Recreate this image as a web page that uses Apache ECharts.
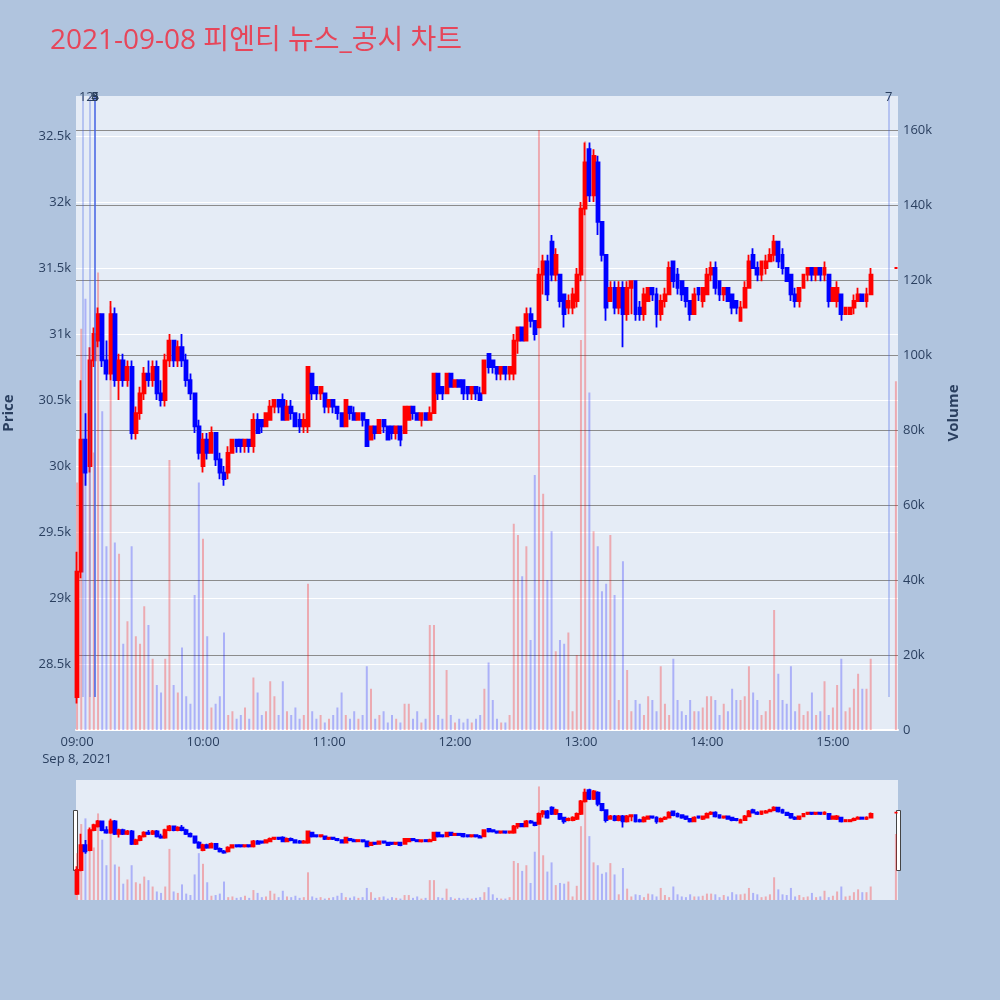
<!DOCTYPE html>
<html>
<head>
<meta charset="utf-8">
<title>피엔티 뉴스_공시 차트</title>
<script src="https://cdn.jsdelivr.net/npm/echarts@6/dist/echarts.min.js"></script>
<style>
  html, body { margin: 0; padding: 0; background: #b0c4de; }
  #chart { width: 1000px; height: 1000px; }
</style>
</head>
<body>
<div id="chart"></div>
<script>
// 2분 단위로 묶은 봉 (09:00 ~ 15:18) + 15:30 종가 단일가
const sessionStart = '09:00'
const closeAuction = '15:30'
const barStep = 2

const opens = [
  28250, 29200, 30200, 30000, 30800, 30950, 31150, 30800, 30700, 31150,
  30650, 30800, 30650, 30750, 30250, 30400, 30550, 30700, 30650, 30750,
  30550, 30500, 30800, 30950, 30800, 30900, 30800, 30650, 30550, 30300,
  30000, 30200, 30100, 30250, 30050, 29950, 29950, 30100, 30200, 30200,
  30150, 30200, 30150, 30350, 30350, 30300, 30350, 30450, 30500, 30500,
  30350, 30450, 30400, 30350, 30300, 30300, 30700, 30600, 30550, 30550,
  30450, 30500, 30450, 30400, 30300, 30450, 30400, 30350, 30400, 30350,
  30200, 30300, 30250, 30350, 30300, 30300, 30250, 30300, 30250, 30350,
  30450, 30400, 30350, 30400, 30350, 30400, 30700, 30600, 30550, 30700,
  30600, 30650, 30650, 30600, 30550, 30600, 30550, 30550, 30850, 30800,
  30750, 30700, 30750, 30700, 30700, 30950, 31050, 30950, 31150, 31100,
  31050, 31450, 31550, 31700, 31450, 31450, 31300, 31200, 31200, 31250,
  31450, 31950, 32400, 32050, 32300, 31850, 31600, 31250, 31350, 31200,
  31350, 31150, 31350, 31400, 31200, 31150, 31250, 31350, 31300, 31150,
  31250, 31300, 31550, 31450, 31400, 31350, 31250, 31150, 31350, 31250,
  31300, 31450, 31500, 31400, 31300, 31350, 31300, 31250, 31100, 31200,
  31350, 31600, 31500, 31450, 31500, 31550, 31600, 31700, 31600, 31500,
  31450, 31300, 31250, 31350, 31450, 31500, 31450, 31500, 31450, 31450,
  31250, 31250, 31300, 31150, 31150, 31200, 31250, 31300, 31250, 31300,
  31500
]
const closes = [
  29200, 30200, 29950, 30800, 31000, 31150, 30800, 30700, 31150, 30650,
  30800, 30650, 30750, 30250, 30400, 30550, 30700, 30650, 30750, 30550,
  30500, 30800, 30950, 30800, 30900, 30800, 30650, 30550, 30300, 30100,
  30200, 30100, 30250, 30050, 29950, 29900, 30100, 30200, 30150, 30150,
  30200, 30150, 30350, 30250, 30300, 30400, 30450, 30500, 30450, 30350,
  30450, 30400, 30300, 30300, 30350, 30750, 30550, 30550, 30600, 30450,
  30500, 30450, 30400, 30300, 30500, 30400, 30350, 30400, 30350, 30150,
  30300, 30250, 30350, 30300, 30200, 30250, 30300, 30200, 30450, 30450,
  30400, 30350, 30400, 30350, 30400, 30700, 30550, 30550, 30700, 30600,
  30650, 30600, 30550, 30550, 30600, 30550, 30500, 30800, 30750, 30750,
  30700, 30750, 30700, 30750, 30950, 31050, 30950, 31150, 31100, 31000,
  31450, 31550, 31300, 31450, 31600, 31250, 31150, 31250, 31300, 31450,
  31950, 32300, 32050, 32350, 31850, 31600, 31200, 31350, 31200, 31350,
  31150, 31350, 31400, 31150, 31150, 31300, 31350, 31300, 31150, 31250,
  31300, 31500, 31400, 31350, 31300, 31250, 31150, 31300, 31300, 31350,
  31450, 31500, 31350, 31300, 31350, 31250, 31200, 31200, 31200, 31350,
  31550, 31500, 31450, 31550, 31550, 31600, 31700, 31550, 31500, 31400,
  31300, 31250, 31350, 31450, 31500, 31450, 31500, 31450, 31500, 31250,
  31350, 31350, 31150, 31200, 31200, 31250, 31300, 31250, 31300, 31450,
  31500
]
const highs = [
  29350, 30650, 30400, 30900, 31050, 31200, 31150, 30950, 31250, 31200,
  30850, 30850, 30800, 30800, 30450, 30600, 30750, 30800, 30800, 30800,
  30650, 30850, 31000, 30950, 30950, 31000, 30850, 30700, 30550, 30350,
  30250, 30250, 30300, 30250, 30100, 30000, 30150, 30200, 30200, 30200,
  30200, 30200, 30400, 30400, 30350, 30400, 30500, 30500, 30500, 30550,
  30500, 30500, 30400, 30400, 30400, 30750, 30700, 30600, 30600, 30550,
  30500, 30500, 30450, 30400, 30500, 30450, 30450, 30400, 30400, 30350,
  30300, 30300, 30350, 30350, 30300, 30300, 30300, 30300, 30450, 30450,
  30450, 30400, 30400, 30400, 30450, 30700, 30700, 30600, 30700, 30700,
  30650, 30650, 30650, 30600, 30600, 30600, 30600, 30800, 30850, 30800,
  30750, 30750, 30750, 30750, 31000, 31050, 31050, 31200, 31200, 31100,
  31500, 31600, 31600, 31750, 31650, 31450, 31300, 31300, 31350, 31500,
  32000, 32450, 32450, 32400, 32350, 31850, 31600, 31400, 31400, 31400,
  31400, 31400, 31400, 31400, 31250, 31350, 31350, 31350, 31350, 31300,
  31350, 31550, 31550, 31500, 31400, 31350, 31250, 31350, 31350, 31350,
  31500, 31550, 31550, 31400, 31350, 31350, 31300, 31250, 31250, 31400,
  31600, 31650, 31550, 31550, 31600, 31650, 31750, 31700, 31650, 31500,
  31450, 31350, 31350, 31450, 31500, 31500, 31500, 31500, 31550, 31450,
  31350, 31400, 31300, 31200, 31200, 31300, 31350, 31300, 31350, 31500,
  31500
]
const lows = [
  28200, 29150, 29850, 29950, 30750, 30900, 30750, 30650, 30650, 30600,
  30500, 30600, 30600, 30200, 30200, 30350, 30500, 30600, 30600, 30500,
  30450, 30450, 30750, 30750, 30750, 30750, 30600, 30500, 30250, 30050,
  29950, 30050, 30100, 30000, 29900, 29850, 29900, 30100, 30100, 30100,
  30100, 30100, 30100, 30250, 30250, 30300, 30350, 30400, 30400, 30350,
  30350, 30350, 30300, 30250, 30250, 30250, 30500, 30500, 30500, 30400,
  30400, 30400, 30350, 30300, 30300, 30350, 30350, 30350, 30300, 30150,
  30200, 30200, 30250, 30250, 30200, 30200, 30200, 30150, 30250, 30350,
  30350, 30350, 30300, 30350, 30350, 30400, 30500, 30500, 30550, 30600,
  30600, 30600, 30500, 30500, 30500, 30500, 30500, 30550, 30700, 30700,
  30650, 30650, 30650, 30650, 30650, 30850, 30950, 30950, 31050, 30950,
  31050, 31300, 31250, 31400, 31400, 31200, 31050, 31150, 31150, 31200,
  31400, 31900, 32000, 32000, 31750, 31550, 31100, 31250, 31150, 31150,
  30900, 31100, 31150, 31100, 31100, 31100, 31250, 31250, 31050, 31100,
  31200, 31300, 31350, 31300, 31250, 31200, 31100, 31150, 31250, 31200,
  31300, 31400, 31300, 31250, 31250, 31250, 31150, 31150, 31100, 31200,
  31350, 31500, 31400, 31400, 31450, 31550, 31550, 31500, 31450, 31400,
  31250, 31200, 31200, 31350, 31400, 31400, 31400, 31400, 31400, 31200,
  31250, 31200, 31100, 31150, 31150, 31150, 31250, 31250, 31200, 31300,
  31500
]
// 거래량 (천 주)
const volumesK = [
  66, 107, 115, 85, 74, 122, 85, 49, 113, 50,
  47, 23, 29, 49, 25, 23, 33, 28, 19, 12,
  10, 19, 72, 12, 10, 22, 9, 7, 36, 66,
  51, 25, 6, 7, 9, 26, 4, 5, 3, 4,
  6, 3, 14, 10, 4, 5, 13, 9, 4, 13,
  5, 4, 6, 3, 4, 39, 5, 3, 4, 2,
  3, 4, 6, 10, 4, 3, 5, 3, 4, 17,
  11, 3, 4, 5, 2, 4, 3, 2, 7, 7,
  3, 5, 2, 3, 28, 28, 4, 3, 16, 4,
  2, 3, 2, 3, 2, 3, 4, 11, 18, 8,
  3, 2, 2, 4, 55, 52, 41, 49, 24, 68,
  160, 63, 40, 53, 21, 24, 23, 26, 5, 20,
  104, 157, 90, 53, 49, 37, 39, 52, 36, 8,
  45, 16, 5, 8, 7, 4, 9, 8, 5, 17,
  7, 4, 19, 8, 5, 4, 8, 5, 5, 6,
  9, 9, 8, 4, 7, 5, 11, 8, 8, 9,
  17, 10, 8, 4, 5, 8, 32, 15, 8, 7,
  17, 5, 7, 4, 5, 10, 4, 5, 13, 4,
  6, 12, 19, 5, 6, 11, 15, 11, 11, 19,
  93
]

// 뉴스/공시 시각 (09:00 기준 분)
const newsLabels = ['1', '2', '3', '4', '5', '6', '7']
const newsMinutes = [2.7, 6.2, 8.55, 8.55, 8.6, 8.6, 386.6]

const xTickLabels = ['09:00', '10:00', '11:00', '12:00', '13:00', '14:00', '15:00']
const dateLabel = 'Sep 8, 2021'

const toMinute = (t) => {
  const [h, m] = t.split(':').map(Number)
  const [h0, m0] = sessionStart.split(':').map(Number)
  return (h - h0) * 60 + (m - m0)
}

// 봉 시각: 09:00부터 2분 간격, 마지막은 15:30 단일가
const times = opens.slice(0, -1).map((_, i) => {
  const m = toMinute(sessionStart) + i * barStep
  const hh = String(9 + Math.floor(m / 60)).padStart(2, '0')
  const mm = String(m % 60).padStart(2, '0')
  return hh + ':' + mm
}).concat([closeAuction])

const xs = times.map(toMinute)
const xTicks = xTickLabels.map(toMinute)

const candleData = xs.map((x, i) => [x, opens[i], closes[i], lows[i], highs[i]])
const volData = xs.map((x, i) => ({
  value: [x, volumesK[i]],
  itemStyle: { color: closes[i] >= opens[i] ? 'rgba(255,0,0,0.28)' : 'rgba(0,0,255,0.25)' }
}))

const newsLines = newsMinutes.map((m, i) => [
  { name: newsLabels[i], coord: [m, 28250] },
  { coord: [m, 32803] }
])

const fontFamily = '"Open Sans", "Noto Sans CJK KR", sans-serif'
const tickColor = '#2a3f5f'
const priceRange = { min: 28000, max: 32803 }
const volRange = { min: 0, max: 169.07 }

const candleStyle = {
  color: '#ff0000',
  color0: '#0000ff',
  borderColor: '#ff0000',
  borderColor0: '#0000ff',
  borderWidth: 1.8
}

const option = {
  backgroundColor: '#b0c4de',
  animation: false,
  textStyle: { fontFamily: fontFamily },
  title: {
    text: '2021-09-08 피엔티 뉴스_공시 차트',
    left: 50,
    top: 25,
    padding: 0,
    textStyle: { color: '#e6465a', fontSize: 28, fontWeight: 'normal', fontFamily: fontFamily, lineHeight: 32 }
  },
  grid: [
    { left: 76, right: 102, top: 96, height: 634, show: true, backgroundColor: '#e5ecf6', borderWidth: 0, outerBoundsMode: 'none', containLabel: false },
    { left: 76, right: 102, top: 780, height: 120, show: true, backgroundColor: '#e5ecf6', borderWidth: 0, outerBoundsMode: 'none', containLabel: false }
  ],
  xAxis: [
    {
      type: 'value', gridIndex: 0, min: -0.5, max: 391,
      splitLine: { show: false },
      axisTick: { show: false },
      axisLine: { show: true, lineStyle: { color: '#ffffff', width: 2 } },
      axisLabel: {
        customValues: xTicks,
        color: tickColor, fontSize: 13, margin: 4, lineHeight: 17,
        formatter: (v) => {
          const i = xTicks.indexOf(v)
          if (i < 0) return ''
          return i === 0 ? xTickLabels[i] + '\n' + dateLabel : xTickLabels[i]
        }
      }
    },
    {
      type: 'value', gridIndex: 1, min: -0.5, max: 391,
      splitLine: { show: false }, axisTick: { show: false },
      axisLine: { show: false }, axisLabel: { show: false }
    }
  ],
  yAxis: [
    {
      type: 'value', gridIndex: 0, position: 'left',
      min: priceRange.min, max: priceRange.max, interval: 500,
      name: 'Price', nameLocation: 'middle', nameGap: 60,
      nameTextStyle: { color: tickColor, fontSize: 15, fontWeight: 'bold' },
      axisLine: { show: false }, axisTick: { show: false },
      splitLine: { show: true, showMaxLine: false, lineStyle: { color: '#ffffff', width: 1 } },
      axisLabel: {
        color: tickColor, fontSize: 13, margin: 5,
        showMinLabel: false, showMaxLabel: false,
        formatter: (v) => (v / 1000) + 'k'
      }
    },
    {
      type: 'value', gridIndex: 0, position: 'right',
      min: volRange.min, max: volRange.max, interval: 20,
      name: 'Volume', nameLocation: 'middle', nameGap: 48,
      nameTextStyle: { color: tickColor, fontSize: 15, fontWeight: 'bold' },
      axisLine: { show: false }, axisTick: { show: false },
      splitLine: { show: true, showMaxLine: false, lineStyle: { color: '#8c8c8c', width: 1 } },
      axisLabel: {
        color: tickColor, fontSize: 13, margin: 5,
        showMaxLabel: false,
        formatter: (v) => v === 0 ? '0' : v + 'k'
      }
    },
    {
      type: 'value', gridIndex: 1, min: priceRange.min, max: priceRange.max,
      show: false, splitLine: { show: false }
    },
    {
      type: 'value', gridIndex: 1, min: volRange.min, max: volRange.max,
      show: false, splitLine: { show: false }
    }
  ],
  series: [
    {
      name: 'Volume', type: 'bar', xAxisIndex: 0, yAxisIndex: 1,
      barWidth: 2, data: volData, z: 1
    },
    {
      name: 'Price', type: 'candlestick', xAxisIndex: 0, yAxisIndex: 0,
      barWidth: 3.4, data: candleData, encode: { x: 0, y: [1, 2, 3, 4] },
      itemStyle: candleStyle, z: 3
    },
    {
      name: 'News', type: 'line', xAxisIndex: 0, yAxisIndex: 0, data: [], z: 2,
      markLine: {
        silent: true, symbol: 'none', animation: false,
        lineStyle: { color: 'rgba(70,100,230,0.3)', width: 2, type: 'solid' },
        label: {
          show: true, position: 'end', distance: -8, formatter: '{b}',
          color: tickColor, fontSize: 13, fontFamily: fontFamily
        },
        data: newsLines
      }
    },
    {
      name: 'VolumeMini', type: 'bar', xAxisIndex: 1, yAxisIndex: 3,
      barWidth: 2, data: volData, z: 1
    },
    {
      name: 'PriceMini', type: 'candlestick', xAxisIndex: 1, yAxisIndex: 2,
      barWidth: 3.4, data: candleData, encode: { x: 0, y: [1, 2, 3, 4] },
      itemStyle: candleStyle, z: 3
    }
  ],
  graphic: [
    // range slider grabbers
    { type: 'rect', left: 73, top: 810, shape: { width: 4, height: 60 }, style: { fill: '#ffffff', stroke: '#444444', lineWidth: 1 } },
    { type: 'rect', left: 896, top: 810, shape: { width: 4, height: 60 }, style: { fill: '#ffffff', stroke: '#444444', lineWidth: 1 } }
  ]
}

const chart = echarts.init(document.getElementById('chart'), null, { renderer: 'canvas' })
chart.setOption(option)
</script>
</body>
</html>
